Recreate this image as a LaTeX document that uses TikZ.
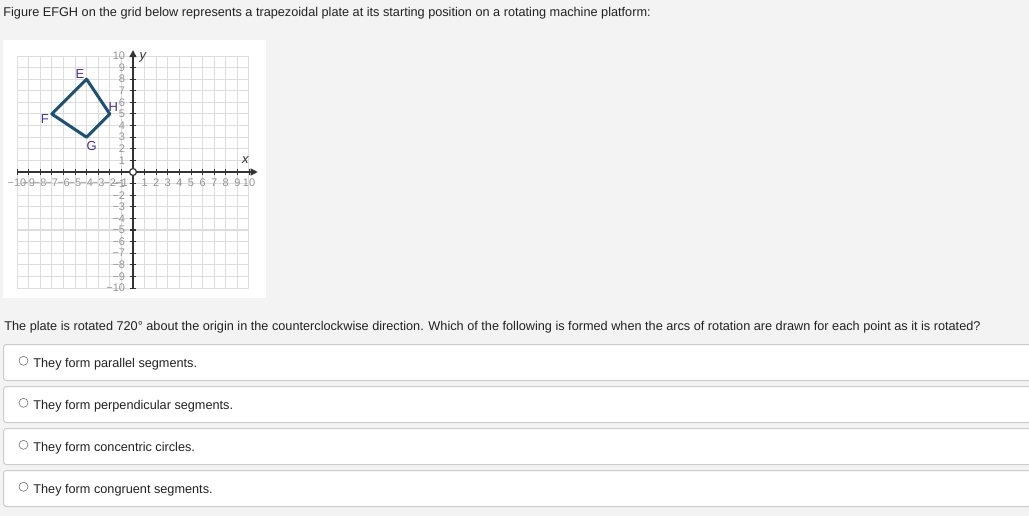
\documentclass[tikz,border=0pt]{standalone}
\usepackage{fontspec}
\setmainfont{Liberation Sans}
\usetikzlibrary{arrows.meta}

\definecolor{pagebg}{HTML}{F3F3F3}
\definecolor{gridln}{HTML}{DDDDDD}
\definecolor{axisln}{HTML}{333333}
\definecolor{ticklbl}{HTML}{949494}
\definecolor{platecol}{HTML}{1B5275}
\definecolor{vertexcol}{HTML}{4A2F9C}
\definecolor{boxln}{HTML}{CCCCCC}
\definecolor{txtcol}{HTML}{222222}

\tikzset{every picture/.style={line width=0.75pt}}
\tikzset{
	qtext/.style={anchor=base west, inner sep=0pt, text=txtcol, font=\fontsize{12.7}{15}\selectfont},
	choicebox/.style={draw=boxln, fill=white, rounded corners=3pt, line width=1pt},
	radio/.style={circle, draw=black!55, fill=white, line width=0.6pt, minimum size=9pt, inner sep=0pt},
	ticklabel/.style={text=ticklbl, inner sep=0pt, font=\fontsize{11}{11}\selectfont},
	vertexlabel/.style={text=vertexcol, inner sep=0pt, font=\fontsize{13}{13}\selectfont},
	axislabel/.style={text=axisln, inner sep=0pt, font=\fontsize{13}{13}\selectfont\itshape}}

\begin{document}
\begin{tikzpicture}[x=1pt,y=-1pt]
	%Shape: Page [id:bg]
	\fill[pagebg] (0,0) rectangle (1029,516);
	\useasboundingbox (0,0) rectangle (1029,516);

	% Text Node
	\node[qtext] (intro) at (3,17) {Figure EFGH on the grid below represents a trapezoidal plate at its starting position on a rotating machine platform:};

	%Shape: Panel [id:panel]
	\fill[white] (3,40) rectangle (266,298);

	\begin{scope}[xshift=133pt, yshift=-172pt, x=11.6pt, y=11.6pt]
		%Shape: Grid [id:grid]
		\draw[gridln, line width=1pt, step=1] (-10,-10) grid (10,10);
		%Shape: Axis 2D [id:axes]
		\draw[axisln, line width=1.2pt, -{Triangle[length=7pt,width=7pt]}] (-10,0) -- (10.75,0);
		\draw[axisln, line width=1.2pt, -{Triangle[length=7pt,width=7pt]}] (0,-10) -- (0,10.5);
		\foreach \k in {-10,...,-1,1,2,...,10}{
			\draw[axisln, line width=1pt] (\k,-0.27) -- (\k,0.27);
			\draw[axisln, line width=1pt] (-0.27,\k) -- (0.27,\k);
		}
		% Tick labels
		\foreach \k in {1,...,10}{
			\node[ticklabel] at (\k,-0.95) {\k};
			\node[ticklabel] at (-\k,-0.95) {−\k};
			\node[ticklabel, anchor=east] at (-0.65,\k) {\k};
			\node[ticklabel, anchor=east] at (-0.65,-\k) {−\k};
		}
		\draw[axisln, line width=1.2pt, fill=white] (0,0) circle (3.5pt);
		% Text Node
		\node[axislabel] (xlab) at (9.68,1.03) {x};
		% Text Node
		\node[axislabel] (ylab) at (0.86,9.91) {y};

		%Shape: Plate [id:plate]
		\coordinate (E) at (-4,8);
		\coordinate (F) at (-7,5);
		\coordinate (G) at (-4,3);
		\coordinate (H) at (-2,5);
		\draw[platecol, line width=3pt, line join=round] (E) -- (H) -- (G) -- (F) -- cycle;
		% Text Node
		\node[vertexlabel] (labE) at (-4.57,8.45) {E};
		\node[vertexlabel] (labF) at (-7.59,4.57) {F};
		\node[vertexlabel] (labG) at (-3.56,2.24) {G};
		\node[vertexlabel] (labH) at (-1.70,5.63) {H};
	\end{scope}

	% Text Node
	\node[qtext] (question) at (4,330) {The plate is rotated 720° about the origin in the counterclockwise direction. Which of the following is formed when the arcs of rotation are drawn for each point as it is rotated?};

	%Shape: Choices [id:choices]
	\foreach \y/\t [count=\i] in {344.5/They form parallel segments.,386.5/They form perpendicular segments.,428.5/They form concentric circles.,470.5/They form congruent segments.}{
		\draw[choicebox] (3.5,\y) rectangle (1040,\y+36);
		\node[radio] (radio\i) at (23.5,\y+16.3) {};
		\node[qtext] (choice\i) at (33,\y+22.7) {\t};
	}
\end{tikzpicture}
\end{document}
